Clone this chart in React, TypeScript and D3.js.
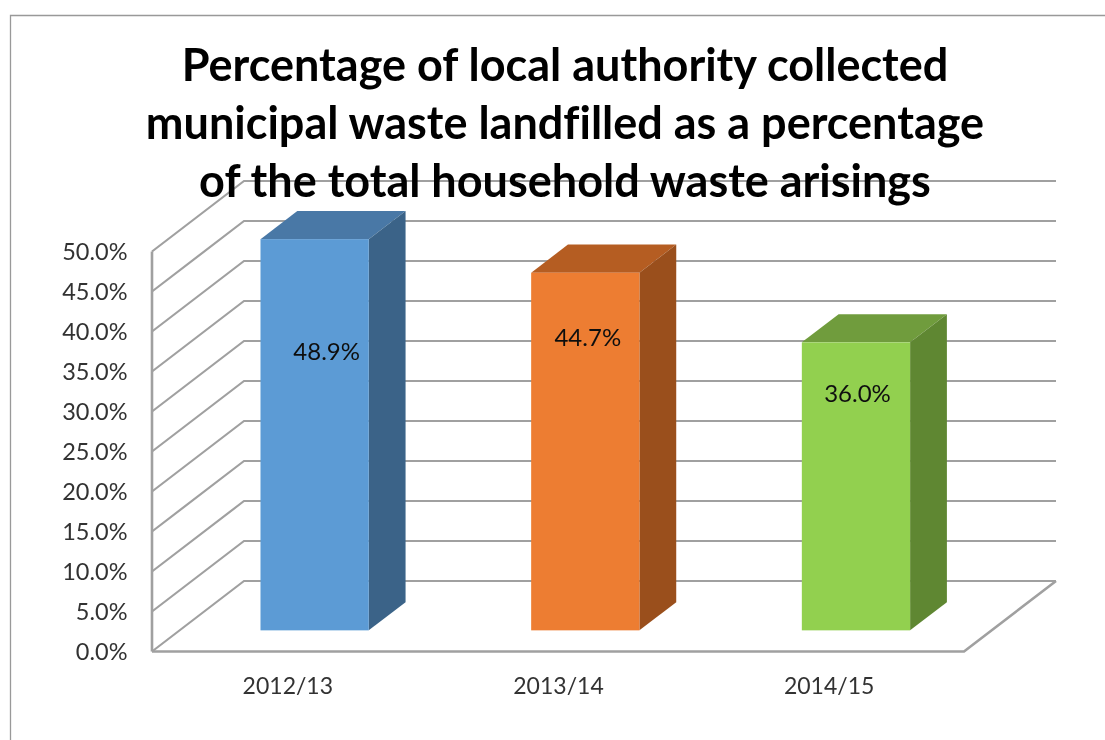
import React from "react";
import * as d3 from "d3";

const categories = ["2012/13", "2013/14", "2014/15"];
const values = [48.9, 44.7, 36.0];
const valueLabels = ["48.9%", "44.7%", "36.0%"];
const ticks = [0, 5, 10, 15, 20, 25, 30, 35, 40, 45, 50];
const titleLines = [
  "Percentage of local authority collected",
  "municipal waste landfilled as a percentage",
  "of the total household waste arisings",
];
const frontColors = ["#5B9BD5", "#ED7D31", "#92D050"];
const topColors = ["#4A78A6", "#B55D22", "#709C3C"];
const sideColors = ["#3A6488", "#9A4F1C", "#5F8733"];
const labelOffsets = [112, 65, 51];
const labelShifts = [12, 2.5, 1.5];

const FONT = "Lato, 'Open Sans', sans-serif";
const GRID = "#a0a0a0";
const DX = 92;
const DY = -70.5;
const x = d3.scaleBand<string>().domain(categories).range([152, 964]);
const y = d3.scaleLinear().domain([0, 50]).range([651.5, 251.5]);
const NEAR = 0.3;
const FAR = 0.7;
const BAR = 0.4;

const pts = (a: number[][]) => a.map((p) => p.join(",")).join(" ");

export default function App() {
  const [x0, x1] = x.range();
  return (
    <svg
      width={1105}
      height={740}
      style={{ position: "absolute", left: 0, top: 0, background: "#fff", fontVariantLigatures: "none" }}
    >
      <defs>
        <filter id="soft" x="-5%" y="-5%" width="110%" height="110%">
          <feGaussianBlur stdDeviation="0.5" />
        </filter>
      </defs>
      <path d="M1105,15.5H10.5V740" fill="none" stroke="#999" strokeWidth={1.3} />
      <g filter="url(#soft)">
        <g fill="none" stroke={GRID} strokeWidth={2.2}>
          {ticks.map((t) => (
            <polyline
              key={t}
              points={pts([
                [x0, y(t)],
                [x0 + DX, y(t) + DY],
                [x1 + DX, y(t) + DY],
              ])}
            />
          ))}
          <line x1={x0} x2={x0} y1={y(50)} y2={y(0)} strokeWidth={2.6} />
          <polyline
            points={pts([
              [x0, y(0)],
              [x1, y(0)],
              [x1 + DX, y(0) + DY],
            ])}
            strokeWidth={2.6}
          />
        </g>
        {categories.map((c, i) => {
          const w = x.bandwidth() * BAR;
          const l = x(c)! + (x.bandwidth() - w) / 2 + NEAR * DX - 0.3;
          const r = l + w;
          const base = y(0) + NEAR * DY;
          const top = base - (y(0) - y(values[i]));
          const ddx = (FAR - NEAR) * DX;
          const ddy = (FAR - NEAR) * DY;
          return (
            <g key={c}>
              <polygon
                fill={topColors[i]}
                points={pts([
                  [l, top],
                  [r, top],
                  [r + ddx, top + ddy],
                  [l + ddx, top + ddy],
                ])}
              />
              <polygon
                fill={sideColors[i]}
                points={pts([
                  [r, top],
                  [r + ddx, top + ddy],
                  [r + ddx, base + ddy],
                  [r, base],
                ])}
              />
              <rect x={l} y={top} width={w} height={base - top} fill={frontColors[i]} />
              <text
                x={(l + r) / 2 + labelShifts[i]}
                y={top + labelOffsets[i] + 8.5}
                textAnchor="middle"
                fontFamily={FONT}
                fontSize={24}
                fill="#111"
              >
                {valueLabels[i]}
              </text>
            </g>
          );
        })}
        {ticks.map((t) => (
          <text
            key={t}
            x={127.5}
            y={y(t) + 8.2}
            textAnchor="end"
            fontFamily={FONT}
            fontSize={23.5}
            fill="#333"
          >
            {t.toFixed(1)}%
          </text>
        ))}
        {categories.map((c) => (
          <text
            key={c}
            x={x(c)! + x.bandwidth() / 2 + 0.5}
            y={694}
            textAnchor="middle"
            fontFamily={FONT}
            fontSize={23}
            fill="#333"
          >
            {c}
          </text>
        ))}
        {titleLines.map((line, i) => (
          <text
            key={line}
            x={565}
            y={81.3 + i * 58}
            textAnchor="middle"
            fontFamily={FONT}
            fontWeight={700}
            fontSize={45}
            fill="#000"
          >
            {line}
          </text>
        ))}
      </g>
    </svg>
  );
}
